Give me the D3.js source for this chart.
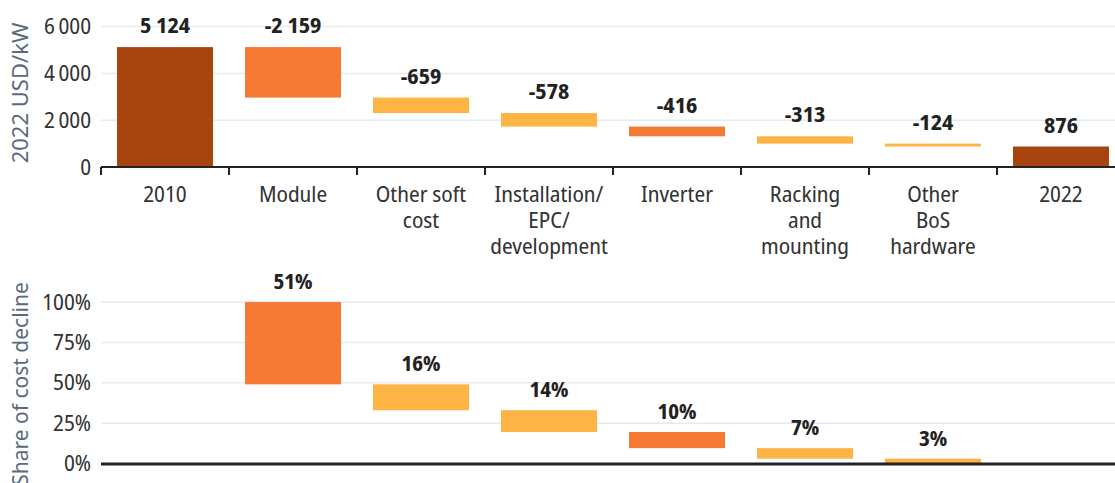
<!DOCTYPE html>
<html>
<head>
<meta charset="utf-8">
<script src="https://cdn.jsdelivr.net/npm/d3@7"></script>
<style>
  html, body { margin: 0; padding: 0; background: #fff; }
  svg text { font-family: "Noto Sans Display", "Noto Sans", sans-serif; font-stretch: condensed; }
  svg text.title { font-family: "Noto Sans", sans-serif; font-stretch: normal; }
</style>
</head>
<body>
<svg id="chart" width="1115" height="483"></svg>
<script>
// categories and values
const categories = ["2010", "Module", "Other soft cost", "Installation/ EPC/ development",
  "Inverter", "Racking and mounting", "Other BoS hardware", "2022"];
const categoryLines = [["2010"], ["Module"], ["Other soft", "cost"], ["Installation/", "EPC/", "development"],
  ["Inverter"], ["Racking", "and", "mounting"], ["Other", "BoS", "hardware"], ["2022"]];
const costValues = [5124, -2159, -659, -578, -416, -313, -124, 876];
const costLabels = ["5 124", "-2 159", "-659", "-578", "-416", "-313", "-124", "876"];
const barKind = ["total", "big", "small", "small", "big", "small", "small", "total"];
const shareValues = [null, 51, 16, 14, 10, 7, 3, null];
// bottom ends of the share waterfall steps (as drawn in the reference)
const shareBase = [null, 49, 33, 19.5, 9.5, 3, 0, null];
const costTicks = [0, 2000, 4000, 6000];
const shareTicks = [0, 25, 50, 75, 100];

const colors = { total: "#a8440f", big: "#f47a35", small: "#fdb444" };
const svg = d3.select("#chart");
const fmt = d => d3.format(",")(d).replace(/,/g, "\u2009");

const x = d3.scaleBand().domain(categories).range([101, 1125]);
const barW = x.bandwidth() * 0.75;
const cx = c => x(c) + x.bandwidth() / 2;

// ---------- top chart ----------
const y1 = d3.scaleLinear().domain([0, 6000]).range([167, 26.6]);

svg.append("g").selectAll("line")
  .data(costTicks.filter(d => d > 0))
  .join("line")
  .attr("x1", 101).attr("x2", 1115)
  .attr("y1", d => y1(d)).attr("y2", d => y1(d))
  .attr("stroke", "#e6ebef").attr("stroke-width", 1.5);

svg.append("g").selectAll("text")
  .data(costTicks)
  .join("text")
  .attr("x", 91).attr("y", d => y1(d))
  .attr("dy", "0.35em")
  .attr("text-anchor", "end")
  .attr("font-size", 22).attr("fill", "#333")
  .text(d => fmt(d));

// running waterfall
let running = 0;
const steps = costValues.map((v, i) => {
  let top, bottom;
  if (barKind[i] === "total") { top = v; bottom = 0; running = v; }
  else { top = running; bottom = running + v; running = bottom; }
  return { cat: categories[i], top, bottom, kind: barKind[i], label: costLabels[i] };
});

svg.append("g").selectAll("rect")
  .data(steps)
  .join("rect")
  .attr("x", d => cx(d.cat) - barW / 2)
  .attr("width", barW)
  .attr("y", d => y1(d.top))
  .attr("height", d => Math.max(2, y1(d.bottom) - y1(d.top)))
  .attr("fill", d => colors[d.kind]);

svg.append("g").selectAll("text")
  .data(steps)
  .join("text")
  .attr("x", d => cx(d.cat))
  .attr("y", d => y1(d.top) - 14)
  .attr("text-anchor", "middle")
  .attr("font-size", 22).attr("font-weight", 700).attr("fill", "#222")
  .text(d => d.label);

// x axis with boundary ticks
const axis = svg.append("g");
axis.append("line")
  .attr("x1", 101).attr("x2", 1115).attr("y1", 167).attr("y2", 167)
  .attr("stroke", "#222").attr("stroke-width", 2);
axis.selectAll(".tk")
  .data(categories)
  .join("line")
  .attr("x1", d => x(d)).attr("x2", d => x(d))
  .attr("y1", 167).attr("y2", 175)
  .attr("stroke", "#222").attr("stroke-width", 2);

const catText = svg.append("g").selectAll("text")
  .data(categories)
  .join("text")
  .attr("text-anchor", "middle")
  .attr("font-size", 22).attr("fill", "#333");
catText.each(function (d, i) {
  d3.select(this).selectAll("tspan")
    .data(categoryLines[i])
    .join("tspan")
    .attr("x", cx(d))
    .attr("y", (t, j) => 202 + j * 26)
    .text(t => t);
});

svg.append("text")
  .attr("class", "title")
  .attr("transform", "translate(28,93) rotate(-90)")
  .attr("text-anchor", "middle")
  .attr("font-size", 22).attr("fill", "#5a6b7d")
  .text("2022 USD/kW");

// ---------- bottom chart ----------
const y2 = d3.scaleLinear().domain([0, 100]).range([463.5, 302]);

svg.append("g").selectAll("line")
  .data(shareTicks.filter(d => d > 0))
  .join("line")
  .attr("x1", 101).attr("x2", 1115)
  .attr("y1", d => y2(d)).attr("y2", d => y2(d))
  .attr("stroke", "#e6ebef").attr("stroke-width", 1.5);

svg.append("g").selectAll("text")
  .data(shareTicks)
  .join("text")
  .attr("x", 91).attr("y", d => y2(d))
  .attr("dy", "0.35em")
  .attr("text-anchor", "end")
  .attr("font-size", 22).attr("fill", "#333")
  .text(d => d + "%");

const shares = categories.map((c, i) => ({
  cat: c, value: shareValues[i], base: shareBase[i], kind: barKind[i]
})).filter(d => d.value != null);
// first step starts at 100%, each next one where the previous ended
shares[0].top = 100;
for (let i = 1; i < shares.length; i++) shares[i].top = shares[i - 1].base;

svg.append("g").selectAll("rect")
  .data(shares)
  .join("rect")
  .attr("x", d => cx(d.cat) - barW / 2)
  .attr("width", barW)
  .attr("y", d => y2(d.top))
  .attr("height", d => y2(d.base) - y2(d.top))
  .attr("fill", d => colors[d.kind]);

svg.append("g").selectAll("text")
  .data(shares)
  .join("text")
  .attr("x", d => cx(d.cat))
  .attr("y", d => y2(d.top) - 13)
  .attr("text-anchor", "middle")
  .attr("font-size", 21).attr("font-weight", 700).attr("fill", "#222")
  .text(d => d.value + "%");

svg.append("line")
  .attr("x1", 101).attr("x2", 1115).attr("y1", 464).attr("y2", 464)
  .attr("stroke", "#222").attr("stroke-width", 3);

svg.append("text")
  .attr("class", "title")
  .attr("transform", "translate(28,384) rotate(-90)")
  .attr("text-anchor", "middle")
  .attr("font-size", 21).attr("fill", "#5a6b7d")
  .text("Share of cost decline");
</script>
</body>
</html>
